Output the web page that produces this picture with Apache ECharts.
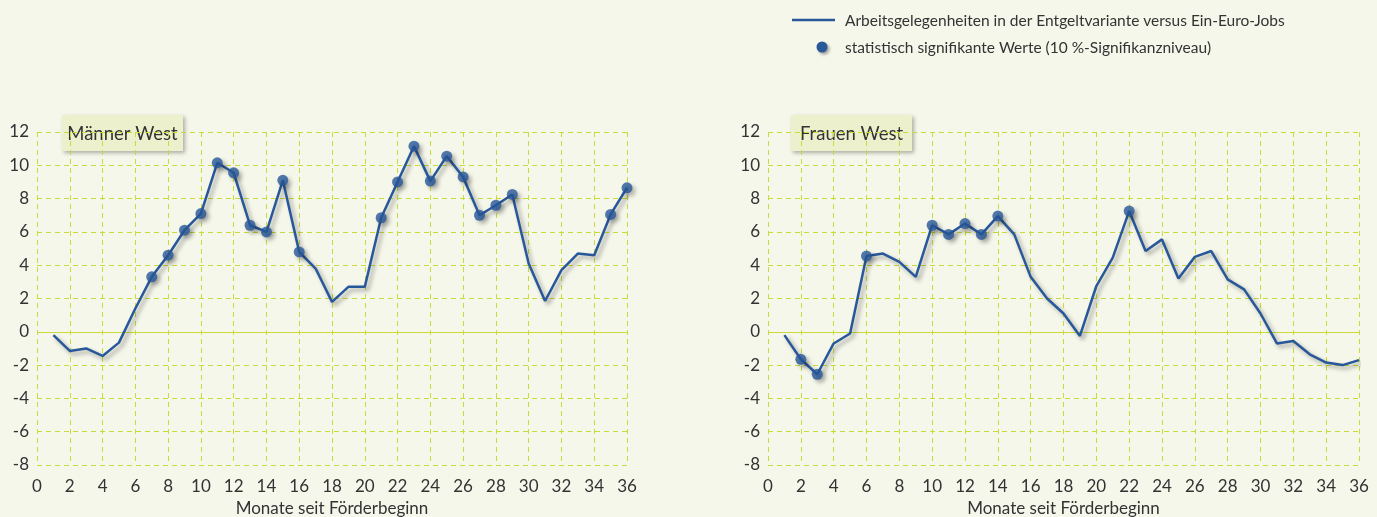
<!DOCTYPE html>
<html>
<head>
<meta charset="utf-8">
<script src="https://cdn.jsdelivr.net/npm/echarts@6/dist/echarts.min.js"></script>
<style>
html,body{margin:0;padding:0;background:#f5f7eb;}
#c{width:1377px;height:517px;}
</style>
</head>
<body>
<div id="c"></div>
<script>
// ---- data ----
const months = [1,2,3,4,5,6,7,8,9,10,11,12,13,14,15,16,17,18,19,20,21,22,23,24,25,26,27,28,29,30,31,32,33,34,35,36];
const maennerWest = [-0.2,-1.15,-1.0,-1.45,-0.65,1.4,3.3,4.6,6.1,7.1,10.15,9.55,6.4,6.0,9.1,4.8,3.8,1.8,2.7,2.7,6.85,9.0,11.15,9.05,10.55,9.3,7.0,7.6,8.25,4.1,1.85,3.7,4.7,4.6,7.05,8.65];
const maennerSig = [7,8,9,10,11,12,13,14,15,16,21,22,23,24,25,26,27,28,29,35,36];
const frauenWest = [-0.2,-1.65,-2.55,-0.7,-0.1,4.55,4.7,4.2,3.3,6.4,5.85,6.5,5.85,6.95,5.85,3.3,2.0,1.1,-0.25,2.75,4.45,7.25,4.85,5.55,3.2,4.5,4.85,3.15,2.55,1.1,-0.7,-0.55,-1.35,-1.85,-2.0,-1.7];
const frauenSig = [2,3,6,10,11,12,13,14,22];
const panelTitles = ['Männer West','Frauen West'];
const xAxisName = 'Monate seit Förderbeginn';
const legendLine = 'Arbeitsgelegenheiten in der Entgeltvariante versus Ein-Euro-Jobs';
const legendDot = 'statistisch signifikante Werte (10 %-Signifikanzniveau)';

const FONT = 'Lato';
const TXT = '#333333';
const GRID = '#c8db3a';
const BLUE = '#28589a';

function lineData(vals){
  return months.map((m,i)=>[m,vals[i]]);
}
function sigData(vals, sig){
  return sig.map(m=>[m, vals[months.indexOf(m)]]);
}

const grids = [
  {left:37, top:132, width:590, height:333, containLabel:false, outerBoundsMode:'none'},
  {left:768, top:132, width:591, height:333, containLabel:false, outerBoundsMode:'none'}
];
const xAxes = grids.map((g,i)=>({
  gridIndex:i, type:'value', min:0, max:36, interval:2,
  name:xAxisName, nameLocation:'middle', nameGap:35,
  nameTextStyle:{fontFamily:FONT,fontSize:17,color:TXT},
  axisLine:{show:false}, axisTick:{show:false},
  axisLabel:{fontFamily:FONT,fontSize:17,color:TXT,margin:13},
  splitLine:{show:true,lineStyle:{type:[5,4],color:GRID,width:1}}
}));
const yAxes = grids.map((g,i)=>({
  gridIndex:i, type:'value', min:-8, max:12, interval:2,
  axisLine:{show:false}, axisTick:{show:false},
  axisLabel:{fontFamily:FONT,fontSize:17,color:TXT,margin:8},
  splitLine:{show:true,lineStyle:{type:[5,4],color:GRID,width:1}}
}));
const shadow = {shadowBlur:4, shadowColor:'rgba(0,0,0,0.35)', shadowOffsetX:3, shadowOffsetY:3};
const sets = [[maennerWest,maennerSig],[frauenWest,frauenSig]];
const series = [];
sets.forEach((s,i)=>{
  series.push({
    type:'line', xAxisIndex:i, yAxisIndex:i, data:lineData(s[0]), showSymbol:false, symbol:'none',
    lineStyle:Object.assign({color:BLUE,width:2.5},shadow), z:3, silent:true, animation:false,
    markLine:{silent:true, symbol:'none', label:{show:false}, lineStyle:{type:'solid',color:GRID,width:1.2}, data:[{yAxis:0}], z:1, animation:false}
  });
  series.push({
    type:'scatter', xAxisIndex:i, yAxisIndex:i, data:sigData(s[0],s[1]), symbol:'circle', symbolSize:11,
    itemStyle:Object.assign({color:BLUE},shadow), z:4, silent:true, animation:false
  });
});

function titleBox(x,y,w,h,text){
  return {type:'group', left:x, top:y, children:[
    {type:'rect', shape:{x:0,y:0,width:w,height:h}, style:{fill:'#ecf0cd',shadowBlur:4,shadowColor:'rgba(0,0,0,0.3)',shadowOffsetX:2,shadowOffsetY:2}},
    {type:'text', x:w/2, y:h/2+1, style:{text:text,fill:TXT,font:'18.5px '+FONT,align:'center',verticalAlign:'middle'}}
  ], z:10};
}
const graphic = [
  titleBox(62,115,121,36,panelTitles[0]),
  titleBox(791,115,121,36,panelTitles[1]),
  {type:'line', shape:{x1:792,y1:20,x2:835,y2:20}, style:{stroke:BLUE,lineWidth:2.5}, z:10},
  {type:'circle', shape:{cx:822,cy:47,r:5.5}, style:{fill:BLUE,shadowBlur:3,shadowColor:'rgba(0,0,0,0.35)',shadowOffsetX:2,shadowOffsetY:2}, z:10},
  {type:'text', x:845, y:21, style:{text:legendLine,fill:TXT,font:'15.5px '+FONT,verticalAlign:'middle'}, z:10},
  {type:'text', x:845, y:48, style:{text:legendDot,fill:TXT,font:'15.5px '+FONT,verticalAlign:'middle'}, z:10}
];

const chart = echarts.init(document.getElementById('c'), null, {renderer:'canvas'});
chart.setOption({
  backgroundColor:'#f5f7eb',
  animation:false,
  grid:grids, xAxis:xAxes, yAxis:yAxes, series:series, graphic:graphic
});
</script>
</body>
</html>
